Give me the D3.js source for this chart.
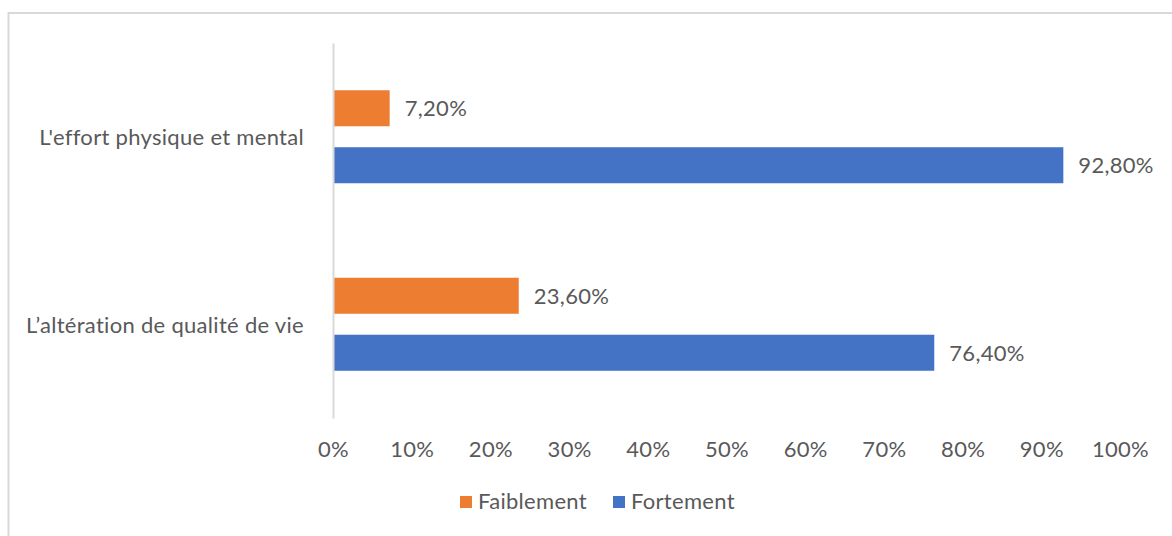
<!DOCTYPE html>
<html>
<head>
<meta charset="utf-8">
<script src="https://cdn.jsdelivr.net/npm/d3@7"></script>
<style>
  html, body { margin: 0; padding: 0; background: #fff; }
  svg { display: block; }
  text { font-family: Lato, "Open Sans", sans-serif; fill: #595959; letter-spacing: 0.3px; }
</style>
</head>
<body>
<svg id="chart" width="1172" height="536"></svg>
<script>
// Categories, top to bottom
const categories = ["L'effort physique et mental", "L\u2019altération de qualité de vie"];
// Series values (percent)
const faiblement = [7.2, 23.6];
const fortement = [92.8, 76.4];
const seriesNames = ["Faiblement", "Fortement"];
const seriesColors = ["#ed7d31", "#4472c4"];
const tickValues = [0, 10, 20, 30, 40, 50, 60, 70, 80, 90, 100];

const svg = d3.select("#chart");
const W = 1172, H = 536;
const fontSize = 22;

// Outer frame (top and left edges visible)
svg.append("line").attr("x1", 8.5).attr("x2", W).attr("y1", 13).attr("y2", 13)
  .attr("stroke", "#d9d9d9").attr("stroke-width", 2);
svg.append("line").attr("x1", 8.5).attr("x2", 8.5).attr("y1", 12).attr("y2", H)
  .attr("stroke", "#d9d9d9").attr("stroke-width", 2);

const plot = { left: 333, right: 1120, top: 43, bottom: 418 };

const x = d3.scaleLinear().domain([0, 100]).range([plot.left, plot.right]);
const y = d3.scaleBand().domain(categories).range([plot.top, plot.bottom]);
const sub = d3.scaleBand().domain(seriesNames)
  .range([y.bandwidth() / 2 - 46.5, y.bandwidth() / 2 + 46.5]).paddingInner(0.368);

const rows = categories.map((c, i) => ({
  cat: c,
  values: [
    { name: seriesNames[0], v: faiblement[i], color: seriesColors[0] },
    { name: seriesNames[1], v: fortement[i], color: seriesColors[1] }
  ]
}));

const g = svg.append("g");
const groups = g.selectAll("g.row").data(rows).enter().append("g")
  .attr("class", "row")
  .attr("transform", d => `translate(0,${y(d.cat)})`);

groups.selectAll("rect").data(d => d.values).enter().append("rect")
  .attr("x", x(0))
  .attr("y", d => sub(d.name))
  .attr("width", d => x(d.v) - x(0))
  .attr("height", sub.bandwidth())
  .attr("fill", d => d.color);

const fmt = v => v.toFixed(2).replace(".", ",") + "%";
groups.selectAll("text.val").data(d => d.values).enter().append("text")
  .attr("class", "val")
  .attr("x", d => x(d.v) + 15)
  .attr("y", d => sub(d.name) + sub.bandwidth() / 2)
  .attr("dy", "0.36em")
  .style("font-size", fontSize + "px")
  .text(d => fmt(d.v));

// Category axis
const yAxis = g.append("g").attr("transform", `translate(${plot.left},0)`)
  .call(d3.axisLeft(y).tickSize(0).tickPadding(29));
yAxis.select(".domain").attr("stroke", "#d9d9d9").attr("stroke-width", 2);
yAxis.selectAll("text").style("font-size", fontSize + "px").attr("fill", "#595959")
  .attr("dy", "0.38em");

// Value axis labels (no line)
const xAxis = g.append("g").attr("transform", `translate(0,${plot.bottom})`)
  .call(d3.axisBottom(x).tickValues(tickValues).tickSize(0).tickPadding(23)
    .tickFormat(d => d + "%"));
xAxis.select(".domain").remove();
xAxis.selectAll("text").style("font-size", fontSize + "px").attr("fill", "#595959");

// Legend
const legendItems = [
  { name: seriesNames[0], color: seriesColors[0], x: 460 },
  { name: seriesNames[1], color: seriesColors[1], x: 613 }
];
const lg = svg.append("g");
legendItems.forEach(it => {
  lg.append("rect").attr("x", it.x).attr("y", 496).attr("width", 12).attr("height", 12)
    .attr("fill", it.color);
  lg.append("text").attr("x", it.x + 18).attr("y", 509)
    .style("font-size", fontSize + "px").text(it.name);
});
</script>
</body>
</html>
